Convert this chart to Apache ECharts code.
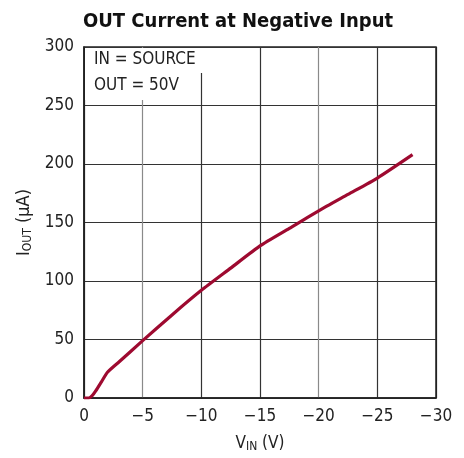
<!DOCTYPE html>
<html>
<head>
<meta charset="utf-8">
<script src="https://cdn.jsdelivr.net/npm/echarts@6/dist/echarts.min.js"></script>
<style>
  html, body { margin: 0; padding: 0; background: #fff; }
  #main { width: 464px; height: 458px; }
</style>
</head>
<body>
<div id="main"></div>
<script>
// input voltage (V) and output current (uA)
const vIn = [0, -0.4, -0.7, -1, -1.5, -2, -3, -5, -7.5, -10, -12.5, -15, -17.5, -20, -22.5, -25, -28]
const iOut = [0, 0, 2, 6, 14, 22, 31, 49, 71, 92, 111, 130, 145, 160, 174, 188, 208]
const yTicks = [0, 50, 100, 150, 200, 250, 300]

const font = '"DejaVu Sans Condensed", "Liberation Sans Narrow", sans-serif'

const chart = echarts.init(document.getElementById('main'))

const option = {
  animation: false,
  title: {
    text: 'OUT Current at Negative Input',
    left: 233,
    textAlign: 'center',
    top: 7,
    textStyle: { fontFamily: font, fontWeight: 'bold', fontSize: 20, color: '#111' }
  },
  grid: {
    left: 84, right: 28, top: 47, bottom: 59,
    show: true, borderColor: '#222', borderWidth: 1.5
  },
  xAxis: {
    type: 'value',
    min: -30, max: 0, interval: 5,
    inverse: true,
    axisLine: { show: true, lineStyle: { color: '#222', width: 1.5 } },
    axisTick: { show: false },
    axisLabel: {
      margin: 10, color: '#222', fontFamily: font, fontSize: 17,
      formatter: v => v === 0 ? '0' : '\u2212' + Math.abs(v)
    },
    splitLine: {
      show: true,
      lineStyle: { color: ['#222', '#333', '#8a8a8a', '#333', '#333', '#8a8a8a', '#222'], width: 1.2 }
    },
    name: '{b|V}{s|IN}{b| (V)}',
    nameLocation: 'middle',
    nameGap: 36,
    nameTextStyle: {
      rich: {
        b: { fontFamily: font, fontSize: 17, color: '#222' },
        s: { fontFamily: font, fontSize: 12, color: '#222', verticalAlign: 'bottom', padding: [7, 0, 0, 0] }
      }
    }
  },
  yAxis: {
    type: 'value',
    min: 0, max: 300, interval: 50,
    axisLine: { show: true, lineStyle: { color: '#222', width: 1.5 } },
    axisTick: { show: false },
    axisLabel: {
      margin: 10, color: '#222', fontFamily: font, fontSize: 17,
      formatter: v => yTicks.includes(v) ? String(v) : ''
    },
    splitLine: { show: true, lineStyle: { color: '#333', width: 1.2 } },
    name: '{b|I}{s|OUT}{b| (\u00b5A)}',
    nameLocation: 'middle',
    nameGap: 48,
    nameRotate: 90,
    nameTextStyle: {
      rich: {
        b: { fontFamily: font, fontSize: 18, color: '#222' },
        s: { fontFamily: font, fontSize: 12, color: '#222', verticalAlign: 'bottom', padding: [7, 0, 0, 0] }
      }
    }
  },
  graphic: [
    // white box behind the condition labels, hides the grid lines there
    { type: 'rect', z: 50, shape: { x: 85, y: 48, width: 121, height: 25 }, style: { fill: '#fff' } },
    { type: 'rect', z: 50, shape: { x: 85, y: 48, width: 92, height: 52 }, style: { fill: '#fff' } },
    {
      type: 'text', z: 51, left: 94, top: 51,
      style: { text: 'IN = SOURCE', font: '17px ' + font, fill: '#222' }
    },
    {
      type: 'text', z: 51, left: 94, top: 77,
      style: { text: 'OUT = 50V', font: '17px ' + font, fill: '#222' }
    }
  ],
  series: [
    {
      type: 'line',
      data: vIn.map((v, i) => [v, iOut[i]]),
      showSymbol: false,
      smooth: 0.2,
      lineStyle: { color: '#9e0a30', width: 3.2 },
      z: 60
    }
  ]
}

chart.setOption(option)
</script>
</body>
</html>
